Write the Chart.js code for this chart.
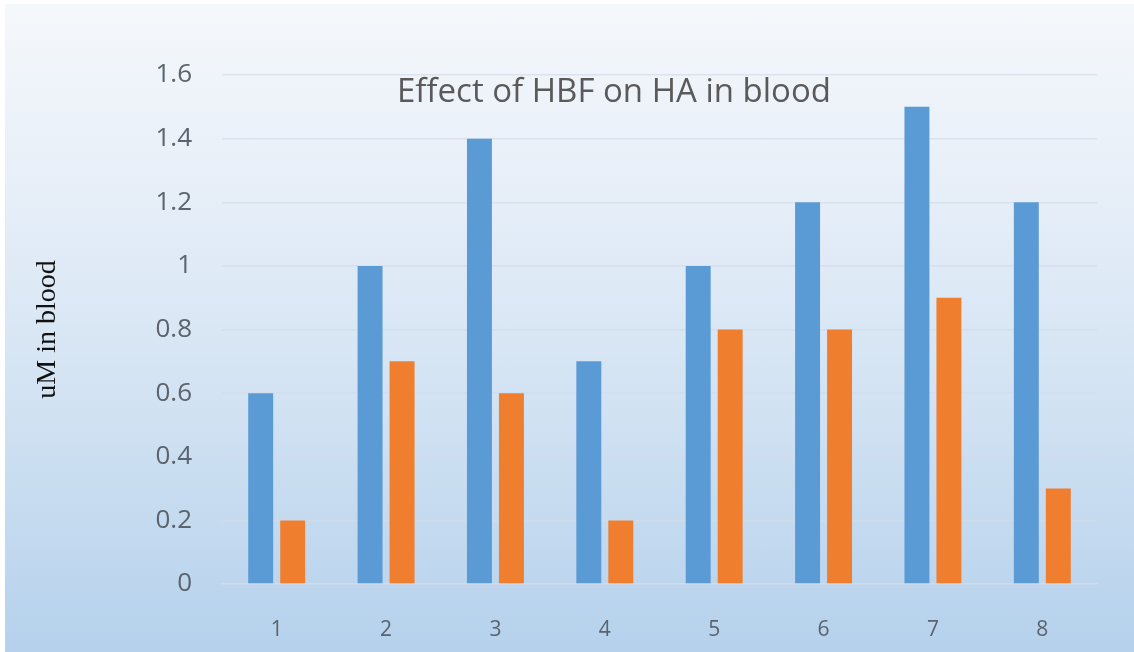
<!DOCTYPE html>
<html>
<head>
<meta charset="utf-8">
<script src="https://cdn.jsdelivr.net/npm/chart.js@4/dist/chart.umd.min.js"></script>
<style>
  html, body { margin: 0; padding: 0; background: #fff; }
  #wrap {
    position: absolute; left: 5px; top: 4px; width: 1129px; height: 648px;
    background: linear-gradient(to bottom, #f5f8fb 0%, #e6eef8 30%, #d3e3f3 60%, #b5d1ec 100%);
  }
  #box { position: absolute; left: 0; top: 0; width: 1134px; height: 652px; }
</style>
</head>
<body>
<div id="wrap"></div>
<div id="box"><canvas id="myChart"></canvas></div>
<script>
// dados do grafico
const categorias = ['1', '2', '3', '4', '5', '6', '7', '8'];
const serieAzul = [0.6, 1.0, 1.4, 0.7, 1.0, 1.2, 1.5, 1.2];
const serieLaranja = [0.2, 0.7, 0.6, 0.2, 0.8, 0.8, 0.9, 0.3];
const titulo = 'Effect of HBF on HA in blood';
const tituloEixoY = 'uM in blood';

// titulo desenhado dentro da area do grafico
const tituloDentro = {
  id: 'tituloDentro',
  afterDraw(chart) {
    const c = chart.ctx;
    c.save();
    c.font = '33px "Open Sans"';
    c.fillStyle = '#5a5a5a';
    c.textAlign = 'center';
    c.textBaseline = 'middle';
    c.fillText(titulo, 614, chart.chartArea.top + 18);
    c.restore();
  }
};

const ctx = document.getElementById('myChart');

new Chart(ctx, {
  type: 'bar',
  data: {
    labels: categorias,
    datasets: [{
      label: 'Serie 1',
      data: serieAzul,
      backgroundColor: '#5b9bd5',
      categoryPercentage: 0.585,
      barPercentage: 0.78
    }, {
      label: 'Serie 2',
      data: serieLaranja,
      backgroundColor: '#ef7e2f',
      categoryPercentage: 0.585,
      barPercentage: 0.78
    }]
  },
  options: {
    responsive: true,
    maintainAspectRatio: false,
    animation: false,
    layout: {
      padding: { left: 5, right: 37, top: 75, bottom: 0 }
    },
    plugins: {
      legend: { display: false },
      tooltip: { enabled: false }
    },
    scales: {
      y: {
        min: 0,
        max: 1.6,
        afterFit: function (s) { s.width = 217 },
        border: { display: false },
        grid: {
          color: 'rgba(210, 220, 233, 0.7)',
          lineWidth: 1.5,
          drawTicks: false
        },
        ticks: {
          stepSize: 0.2,
          padding: 30,
          color: '#5b636d',
          font: { family: 'Open Sans', size: 26 },
          callback: function (v) { return Math.round(v * 10) / 10 }
        },
        title: {
          display: true,
          text: tituloEixoY,
          color: '#111',
          font: { family: 'Liberation Serif', size: 28 },
          padding: { top: 26, bottom: 0 }
        }
      },
      x: {
        afterFit: function (s) { s.height = 68 },
        border: { color: 'rgba(210, 220, 233, 0.7)', width: 1.5 },
        grid: { display: false },
        ticks: {
          padding: 25,
          color: '#5b636d',
          font: { family: 'Open Sans', size: 21 }
        }
      }
    }
  },
  plugins: [tituloDentro]
});
</script>
</body>
</html>
